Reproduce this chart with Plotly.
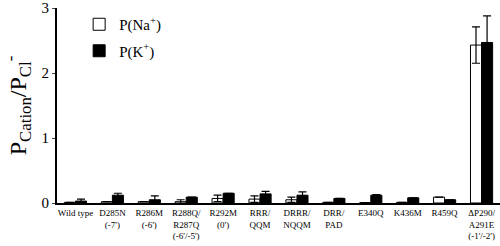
import plotly.graph_objects as go

categories = ["Wild type", "D285N<br>(-7')", "R286M<br>(-6')", "R288Q/<br>R287Q<br>(-6'/-5')",
              "R292M<br>(0')", "RRR/<br>QQM", "DRRR/<br>NQQM", "DRR/<br>PAD", "E340Q",
              "K436M", "R459Q", "ΔP290/<br>A291E<br>(-1'/-2')"]
na_vals = [0.01, 0.02, 0.02, 0.02, 0.07, 0.06, 0.05, 0.01, 0.005, 0.01, 0.09, 2.43]
na_err = [0.0, 0.0, 0.0, 0.03, 0.05, 0.05, 0.04, 0.0, 0.0, 0.0, 0.0, 0.28]
k_vals = [0.03, 0.12, 0.05, 0.09, 0.15, 0.14, 0.12, 0.07, 0.12, 0.08, 0.05, 2.47]
k_err = [0.03, 0.03, 0.06, 0.0, 0.0, 0.04, 0.05, 0.0, 0.01, 0.0, 0.0, 0.41]
na_name = "P(Na<sup>+</sup>)"
k_name = "P(K<sup>+</sup>)"

SERIF = "Liberation Serif, Times New Roman, serif"
xs = list(range(len(categories)))
fig = go.Figure()
fig.add_trace(go.Bar(x=xs, y=na_vals, name=na_name, legendgroup="a",
                     marker=dict(color="white", line=dict(color="black", width=1)),
                     error_y=dict(type="data", array=na_err, color="black", thickness=1.2, width=4)))
fig.add_trace(go.Bar(x=xs, y=k_vals, name=k_name, legendgroup="b",
                     marker=dict(color="black", line=dict(color="black", width=1)),
                     error_y=dict(type="data", array=k_err, color="black", thickness=1.2, width=4)))

fig.update_layout(
    width=500, height=246,
    margin=dict(l=57, r=0, t=8, b=43),
    paper_bgcolor="white", plot_bgcolor="white",
    barmode="group", bargap=0.4, bargroupgap=0,
    font=dict(family=SERIF, color="black"),
    legend=dict(x=0.05, y=1.0, xanchor="left", yanchor="top",
                font=dict(family=SERIF, size=15, color="black"),
                tracegroupgap=4, bgcolor="rgba(0,0,0,0)"),
    xaxis=dict(range=[-0.5, 11.5], tickvals=xs, ticktext=categories, showline=True,
               linecolor="black", linewidth=2, ticks="",
               tickfont=dict(family=SERIF, size=9, color="black"),
               showgrid=False, zeroline=False),
    yaxis=dict(range=[0, 3], tickvals=[0, 1, 2, 3], showline=True, linecolor="black",
               linewidth=2, ticks="outside", ticklen=3,
               tickfont=dict(family=SERIF, size=15, color="black"),
               showgrid=False, zeroline=False,
               title=dict(text="P<sub>Cation</sub>/P<sub>Cl</sub><sup>-</sup>",
                          font=dict(family=SERIF, size=24, color="black"), standoff=8)),
)
fig.write_html("out.html")
